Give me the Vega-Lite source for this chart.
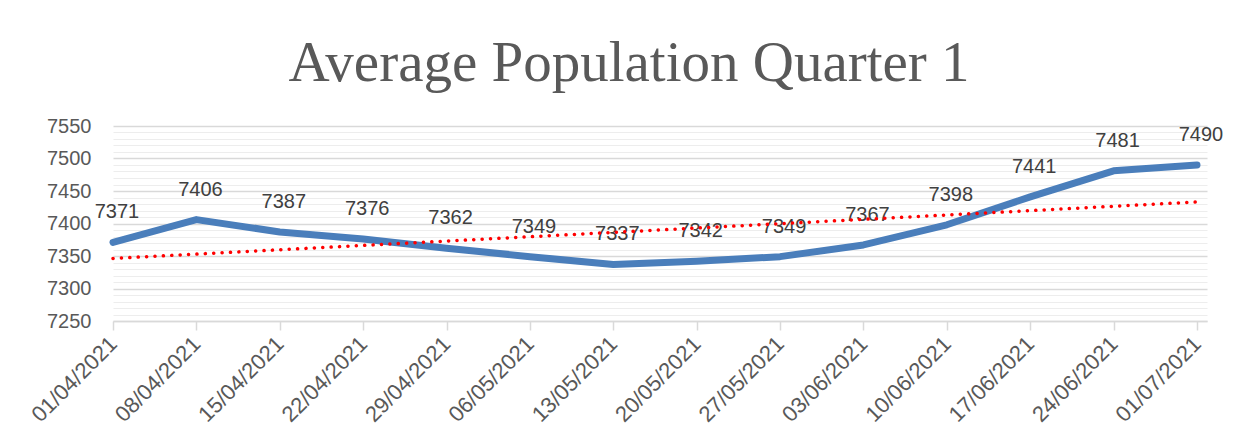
{
  "$schema": "https://vega.github.io/schema/vega-lite/v6.json",
  "width": 1094,
  "height": 195,
  "autosize": {"type": "none"},
  "padding": {"left": 113, "top": 126, "right": 41, "bottom": 127},
  "background": "white",
  "title": {
    "text": "Average Population Quarter 1",
    "font": "Liberation Serif",
    "fontSize": 57,
    "fontWeight": "normal",
    "color": "#595959",
    "anchor": "middle",
    "dx": -31,
    "offset": 23
  },
  "config": {
    "view": {"stroke": null},
    "axis": {"labelFont": "Liberation Sans", "labelColor": "#595959", "labelFontSize": 20}
  },
  "data": {
    "values": [
      {"i": 0, "date": "01/04/2021", "pop": 7371},
      {"i": 1, "date": "08/04/2021", "pop": 7406},
      {"i": 2, "date": "15/04/2021", "pop": 7387},
      {"i": 3, "date": "22/04/2021", "pop": 7376},
      {"i": 4, "date": "29/04/2021", "pop": 7362},
      {"i": 5, "date": "06/05/2021", "pop": 7349},
      {"i": 6, "date": "13/05/2021", "pop": 7337},
      {"i": 7, "date": "20/05/2021", "pop": 7342},
      {"i": 8, "date": "27/05/2021", "pop": 7349},
      {"i": 9, "date": "03/06/2021", "pop": 7367},
      {"i": 10, "date": "10/06/2021", "pop": 7398},
      {"i": 11, "date": "17/06/2021", "pop": 7441},
      {"i": 12, "date": "24/06/2021", "pop": 7481},
      {"i": 13, "date": "01/07/2021", "pop": 7490}
    ]
  },
  "encoding": {
    "x": {
      "field": "i", "type": "quantitative",
      "scale": {"domain": [0, 13.12], "nice": false, "zero": false},
      "axis": {
        "title": null,
        "values": [0,1,2,3,4,5,6,7,8,9,10,11,12,13],
        "labelExpr": "['01/04/2021','08/04/2021','15/04/2021','22/04/2021','29/04/2021','06/05/2021','13/05/2021','20/05/2021','27/05/2021','03/06/2021','10/06/2021','17/06/2021','24/06/2021','01/07/2021'][datum.value]",
        "labelAngle": -45,
        "labelAlign": "right",
        "labelBaseline": "middle",
        "labelPadding": 10,
        "labelFontSize": 22,
        "labelOverlap": false,
        "labelFlush": false,
        "grid": false,
        "domain": true,
        "domainColor": "#d9d9d9",
        "domainWidth": 1.5,
        "ticks": true,
        "tickColor": "#d9d9d9",
        "tickSize": 9,
        "tickWidth": 1.5
      }
    },
    "y": {
      "field": "pop", "type": "quantitative",
      "scale": {"domain": [7250, 7550], "nice": false, "zero": false},
      "axis": {
        "title": null,
        "values": [7250,7260,7270,7280,7290,7300,7310,7320,7330,7340,7350,7360,7370,7380,7390,7400,7410,7420,7430,7440,7450,7460,7470,7480,7490,7500,7510,7520,7530,7540,7550],
        "labelExpr": "datum.value % 50 === 0 ? format(datum.value, 'd') : ''",
        "labelPadding": 22,
        "labelOverlap": false,
        "ticks": false,
        "domain": false,
        "grid": true,
        "gridColor": {"condition": {"test": "datum.value % 50 === 0", "value": "#d9d9d9"}, "value": "#ededed"},
        "gridWidth": {"condition": {"test": "datum.value % 50 === 0", "value": 1.6}, "value": 1.2}
      }
    }
  },
  "layer": [
    {
      "mark": {"type": "line", "color": "#4a7ebb", "strokeWidth": 7, "strokeCap": "round", "strokeJoin": "round"}
    },
    {
      "mark": {"type": "text", "font": "Liberation Sans", "fontSize": 20, "color": "#404040", "baseline": "alphabetic", "dy": -24, "dx": 4},
      "encoding": {
        "text": {"field": "pop", "type": "quantitative", "format": "d"}
      }
    },
    {
      "transform": [{"regression": "pop", "on": "i"}],
      "mark": {"type": "line", "color": "#ff0000", "strokeWidth": 3.5, "strokeDash": [0.1, 8.3], "strokeCap": "round"}
    }
  ]
}
